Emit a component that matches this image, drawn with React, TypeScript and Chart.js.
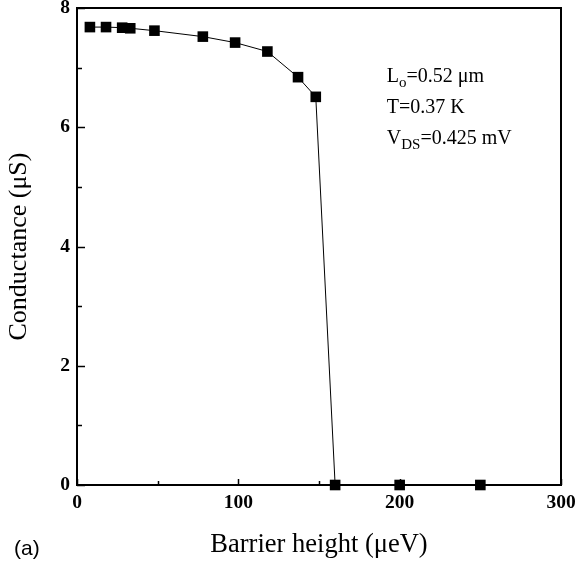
import React, { useEffect, useRef } from "react";
import { Chart, registerables } from "chart.js";

Chart.register(...registerables);

const barrierHeight = [8, 18, 28, 33, 48, 78, 98, 118, 137, 148, 160, 200, 250];
const conductance = [7.68, 7.68, 7.67, 7.66, 7.62, 7.52, 7.42, 7.27, 6.84, 6.51, 0, 0, 0];

const xTicks = [0, 100, 200, 300];
const yTicks = [0, 2, 4, 6, 8];

const xTitle = "Barrier height (\u03BCeV)";
const yTitle = "Conductance (\u03BCS)";
const panelLabel = "(a)";

// annotation lines: [main, subscript, rest]
const annotationLines: [string, string, string][] = [
  ["L", "o", "=0.52 \u03BCm"],
  ["T=0.37 K", "", ""],
  ["V", "DS", "=0.425 mV"],
];
const annotationX = 192;
const annotationY = [6.85, 6.32, 5.8];

const SERIF = "'Liberation Serif', 'Times New Roman', serif";

const framePlugin = {
  id: "frameTicks",
  beforeDatasetsDraw(chart: any) {
    const { ctx, chartArea } = chart;
    const xs = chart.scales.x;
    const ys = chart.scales.y;
    ctx.save();
    ctx.strokeStyle = "#000";
    ctx.lineWidth = 2;
    ctx.strokeRect(chartArea.left, chartArea.top, chartArea.right - chartArea.left, chartArea.bottom - chartArea.top);
    ctx.lineWidth = 1.5;
    for (let v = 0; v <= 300; v += 50) {
      const px = Math.round(xs.getPixelForValue(v)) + 0.5;
      const len = v % 100 === 0 ? 6 : 4;
      ctx.beginPath();
      ctx.moveTo(px, chartArea.bottom);
      ctx.lineTo(px, chartArea.bottom - len);
      ctx.stroke();
    }
    for (let v = 0; v <= 8; v += 1) {
      const py = Math.round(ys.getPixelForValue(v)) + 0.5;
      const len = v % 2 === 0 ? 8 : 5;
      ctx.beginPath();
      ctx.moveTo(chartArea.left, py);
      ctx.lineTo(chartArea.left + len, py);
      ctx.stroke();
    }
    ctx.restore();
  },
  afterDraw(chart: any) {
    const { ctx } = chart;
    const xs = chart.scales.x;
    const ys = chart.scales.y;
    ctx.save();
    ctx.fillStyle = "#000";
    ctx.textBaseline = "middle";
    const mainFont = "20px " + SERIF;
    const subFont = "15px " + SERIF;
    annotationLines.forEach((line, i) => {
      let x = xs.getPixelForValue(annotationX);
      const y = ys.getPixelForValue(annotationY[i]);
      ctx.font = mainFont;
      ctx.textAlign = "left";
      ctx.fillText(line[0], x, y);
      x += ctx.measureText(line[0]).width;
      if (line[1]) {
        ctx.font = subFont;
        ctx.fillText(line[1], x, y + 6);
        x += ctx.measureText(line[1]).width;
      }
      if (line[2]) {
        ctx.font = mainFont;
        ctx.fillText(line[2], x, y);
      }
    });
    ctx.font = "21px 'Liberation Sans', Arial, sans-serif";
    ctx.textAlign = "left";
    ctx.fillText(panelLabel, 14, 549);
    ctx.restore();
  },
};

export default function App() {
  const ref = useRef<HTMLCanvasElement | null>(null);
  useEffect(() => {
    if (!ref.current) return;
    const chart = new Chart(ref.current, {
      type: "line",
      data: {
        datasets: [
          {
            data: barrierHeight.map((x, i) => ({ x, y: conductance[i] })),
            borderColor: "#000",
            borderWidth: 1,
            backgroundColor: "#000",
            pointStyle: "rect",
            pointRadius: 7.5,
            pointBorderWidth: 0,
            pointBackgroundColor: "#000",
            tension: 0,
            clip: false as any,
          },
        ],
      },
      options: {
        responsive: false,
        animation: false,
        devicePixelRatio: 1,
        layout: { padding: { left: 0, right: 17, top: 8, bottom: 0 } },
        plugins: { legend: { display: false }, tooltip: { enabled: false } },
        scales: {
          x: {
            type: "linear",
            min: 0,
            max: 300,
            afterBuildTicks: (s: any) => {
              s.ticks = xTicks.map((v) => ({ value: v }));
            },
            afterFit: (s: any) => {
              s.height = 81;
              s.paddingLeft = 0;
              s.paddingRight = 0;
            },
            grid: { display: false, drawTicks: false },
            border: { display: false },
            ticks: { color: "#000", font: { family: SERIF, size: 19.5, weight: "bold" }, padding: 6, maxRotation: 0 },
            title: {
              display: true,
              text: xTitle,
              color: "#000",
              font: { family: SERIF, size: 26.5 },
              padding: { top: 0, bottom: 5 },
            },
          },
          y: {
            type: "linear",
            min: 0,
            max: 8,
            afterBuildTicks: (s: any) => {
              s.ticks = yTicks.map((v) => ({ value: v }));
            },
            afterFit: (s: any) => {
              s.width = 77;
              s.paddingTop = 0;
              s.paddingBottom = 0;
            },
            grid: { display: false, drawTicks: false },
            border: { display: false },
            ticks: { color: "#000", font: { family: SERIF, size: 19.5, weight: "bold" }, padding: 7 },
            title: {
              display: true,
              text: yTitle,
              color: "#000",
              font: { family: SERIF, size: 26 },
              padding: { top: 4, bottom: 4 },
            },
          },
        },
      },
      plugins: [framePlugin],
    });
    return () => chart.destroy();
  }, []);
  return (
    <div style={{ position: "absolute", left: 0, top: 0, width: 578, height: 566, background: "#fff" }}>
      <canvas ref={ref} width={578} height={566} />
    </div>
  );
}
